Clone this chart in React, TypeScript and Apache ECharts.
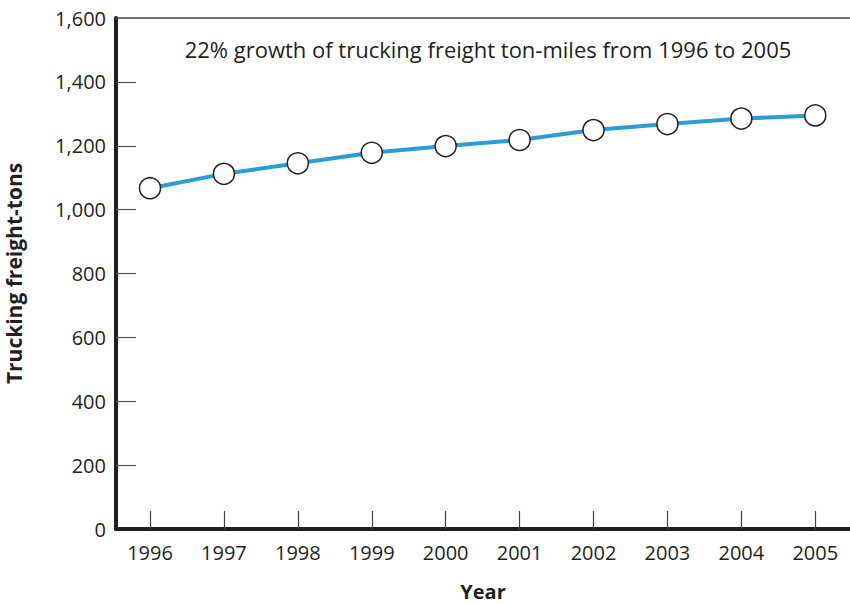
import React, { useEffect, useRef } from "react";
import * as echarts from "echarts";

const years = [1996, 1997, 1998, 1999, 2000, 2001, 2002, 2003, 2004, 2005];
const freightTons = [1067, 1112, 1145, 1178, 1199, 1218, 1249, 1268, 1285, 1295];
const yTicks = [0, 200, 400, 600, 800, 1000, 1200, 1400, 1600];
const chartNote = "22% growth of trucking freight ton-miles from 1996 to 2005";

const FONT = "'Open Sans', 'Noto Sans', sans-serif";
const INK = "#231f20";

export default function App() {
  const ref = useRef<HTMLDivElement>(null);
  useEffect(() => {
    document.body.style.margin = "0";
    const chart = echarts.init(ref.current!, null, { renderer: "svg" });
    chart.setOption({
      animation: false,
      grid: { left: 116, right: 0, top: 18, bottom: 75, containLabel: false, outerBoundsMode: "none" },
      title: {
        text: chartNote,
        left: 483,
        top: 33,
        textAlign: "center",
        textStyle: { fontFamily: FONT, fontSize: 22, fontWeight: "normal", color: INK },
      },
      xAxis: [
        {
          type: "value",
          min: 1995.54,
          max: 2005.47,
          name: "Year",
          nameLocation: "middle",
          nameGap: 52,
          nameTextStyle: { fontFamily: FONT, fontSize: 20, fontWeight: "bold", color: INK },
          axisLine: { show: true, onZero: false, lineStyle: { color: INK, width: 4 } },
          axisTick: { show: true, inside: true, length: 18, customValues: years, lineStyle: { color: "#444", width: 1.2 } },
          axisLabel: {
            customValues: years,
            margin: 13,
            fontFamily: FONT,
            fontSize: 20,
            color: INK,
            formatter: (v: number) => String(Math.round(v)),
          },
          splitLine: { show: false },
        },
        {
          type: "value",
          position: "top",
          min: 1995.54,
          max: 2005.47,
          axisLine: { show: true, onZero: false, lineStyle: { color: "#444", width: 1.5 } },
          axisTick: { show: false },
          axisLabel: { show: false },
          splitLine: { show: false },
        },
      ],
      yAxis: {
        type: "value",
        min: 0,
        max: 1600,
        interval: 200,
        name: "Trucking freight-tons",
        nameLocation: "middle",
        nameGap: 92,
        nameTextStyle: { fontFamily: FONT, fontSize: 21, fontWeight: "bold", color: INK },
        axisLine: { show: true, onZero: false, lineStyle: { color: INK, width: 4 } },
        axisTick: { show: true, inside: true, length: 20, customValues: yTicks.slice(1, -1), lineStyle: { color: "#555", width: 1.2 } },
        axisLabel: {
          margin: 10,
          fontFamily: FONT,
          fontSize: 20,
          color: INK,
          formatter: (v: number) => v.toLocaleString("en-US"),
        },
        splitLine: { show: false },
      },
      series: [
        {
          type: "line",
          data: years.map((y, i) => [y, freightTons[i]]),
          lineStyle: { color: "#2a9dd6", width: 4 },
          symbol: "circle",
          symbolSize: 21,
          itemStyle: { color: "#ffffff", borderColor: "#231f20", borderWidth: 1.5 },
          z: 3,
        },
      ],
    });
    return () => chart.dispose();
  }, []);
  return <div ref={ref} style={{ width: 850, height: 604 }} />;
}
